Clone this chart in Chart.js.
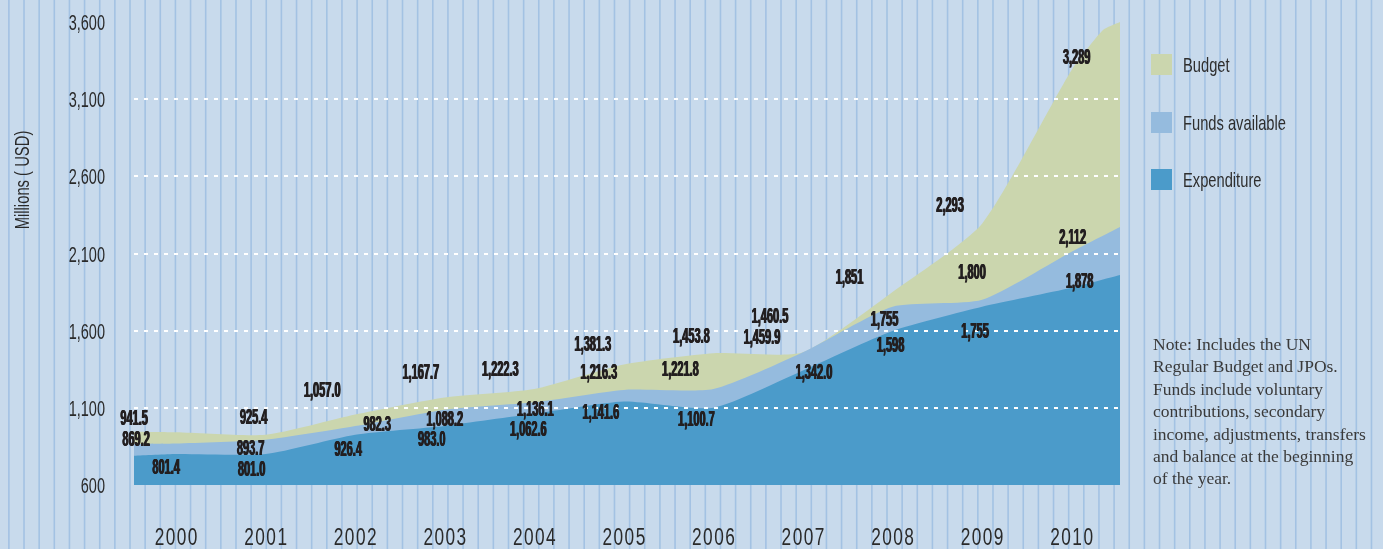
<!DOCTYPE html>
<html>
<head>
<meta charset="utf-8">
<script src="https://cdn.jsdelivr.net/npm/chart.js@4.4.1/dist/chart.umd.min.js"></script>
<style>
  html, body { margin: 0; padding: 0; background: #c8daec; }
  #wrap { width: 1383px; height: 549px; position: relative; }
</style>
</head>
<body>
<div id="wrap"><canvas id="c" width="1383" height="549"></canvas></div>
<script>
// ---------- data ----------
const years = [2000, 2001, 2002, 2003, 2004, 2005, 2006, 2007, 2008, 2009, 2010];
const budget      = [941.5, 925.4, 1057.0, 1167.7, 1222.3, 1381.3, 1453.8, 1460.5, 1851, 2293, 3289];
const funds       = [869.2, 893.7, 982.3, 1088.2, 1136.1, 1216.3, 1221.8, 1459.9, 1755, 1800, 2112];
const expenditure = [801.4, 801.0, 926.4, 983.0, 1062.6, 1141.6, 1100.7, 1342.0, 1598, 1755, 1878];
// the drawn areas run a little past the first and last year
const areaStartYear = 1999.53;
const areaEndYear = 2010.54;
const budgetTailYears = [2010.35, 2010.54];
const budgetTail = [3548, 3600];
const areaStart = { budget: 945, funds: 866, expenditure: 790 };
const areaEnd = { funds: 2272, expenditure: 1960 };
const yTicks = [600, 1100, 1600, 2100, 2600, 3100, 3600];
const seriesNames = ['Budget', 'Funds available', 'Expenditure'];
const noteLines = [
  'Note: Includes the UN',
  'Regular Budget and JPOs.',
  'Funds include voluntary',
  'contributions, secondary',
  'income, adjustments, transfers',
  'and balance at the beginning',
  'of the year.'
];

// ---------- styling / placement ----------
const COLORS = { budget: '#cbd6ae', funds: '#95bbde', expenditure: '#4b9bca' };
const BG = '#c8daec';
const STRIPE = '#a3c2e3';
const TXT = '#231f20';
// label offsets (px) from each data point: [dx of text centre, dy of baseline]
const budgetLabelOff = [[-42,-7],[-12,-11],[-33,-17],[-24,-18],[-34,-13],[-31,-13],[-22,-10],[-33,-29],[-43,-8],[-32,-12],[5,-6]];
const fundsLabelOff  = [[-40,3],[-15,15],[22,5],[0,16],[1,14],[-25,-11],[-33,-13],[-41,-8],[-8,19],[-10,-21],[1,-8]];
const expLabelOff    = [[-10,20],[-14,22],[-7,21],[-13,20],[-6,22],[-23,18],[-17,18],[11,9],[-2,21],[-7,31],[8,0]];

function pts(vals, startVal, tailX, tailY) {
  const out = [{ x: areaStartYear, y: startVal }];
  years.forEach((yr, i) => out.push({ x: yr, y: vals[i] }));
  tailX.forEach((x, i) => out.push({ x: x, y: tailY[i] }));
  return out;
}

function fmt(v, yr) {
  const d = yr <= 2007 ? 1 : 0;
  return v.toLocaleString('en-US', { minimumFractionDigits: d, maximumFractionDigits: d });
}

function drawText(ctx, text, x, y, o) {
  ctx.save();
  ctx.font = o.font;
  ctx.fillStyle = o.color || TXT;
  ctx.textBaseline = o.baseline || 'alphabetic';
  ctx.textAlign = 'left';
  if (o.spacing) ctx.letterSpacing = o.spacing + 'px';
  const sx = o.sx || 1;
  let w = ctx.measureText(text).width;
  if (o.spacing) w -= o.spacing;
  w *= sx;
  const x0 = o.align === 'center' ? x - w / 2 : (o.align === 'right' ? x - w : x);
  ctx.translate(x0, y);
  ctx.scale(sx, 1);
  const passes = o.heavy || 1;
  for (let p = 0; p < passes; p++) ctx.fillText(text, p * 0.9 - (passes - 1) * 0.45, 0);
  ctx.restore();
}

const decor = {
  id: 'decor',
  beforeDraw(chart) {
    const ctx = chart.ctx;
    ctx.save();
    ctx.fillStyle = BG;
    ctx.fillRect(0, 0, chart.width, chart.height);
    ctx.strokeStyle = STRIPE;
    ctx.lineWidth = 1.6;
    for (let x = 130 - 15.14 * 8; x < chart.width; x += 15.14) {
      ctx.beginPath();
      ctx.moveTo(x, 0);
      ctx.lineTo(x, chart.height);
      ctx.stroke();
    }
    ctx.restore();
  },
  afterDraw(chart) {
    const ctx = chart.ctx;
    const xs = chart.scales.x, ys = chart.scales.y;
    // y tick labels
    ys.ticks.forEach(t => {
      drawText(ctx, t.value.toLocaleString('en-US'), 105, ys.getPixelForValue(t.value) + 8,
        { font: '22px "Liberation Sans"', sx: 0.66, align: 'right', color: '#2a2a2a' });
    });
    // axis title
    ctx.save();
    ctx.translate(29, 180);
    ctx.rotate(-Math.PI / 2);
    drawText(ctx, 'Millions ( USD)', 0, 0, { font: '20px "Liberation Sans"', sx: 0.74, align: 'center', color: '#2a2a2a' });
    ctx.restore();
    // year labels
    years.forEach(yr => {
      drawText(ctx, String(yr), xs.getPixelForValue(yr), 545,
        { font: '24px "Liberation Sans"', sx: 0.72, spacing: 2, align: 'center', color: '#2a2a2a' });
    });
    // data labels
    const groups = [[budget, budgetLabelOff], [funds, fundsLabelOff], [expenditure, expLabelOff]];
    groups.forEach(([vals, offs]) => {
      vals.forEach((v, i) => {
        const px = xs.getPixelForValue(years[i]) + offs[i][0];
        const py = ys.getPixelForValue(v) + offs[i][1];
        drawText(ctx, fmt(v, years[i]), px, py, { font: 'bold 22px "Liberation Sans"', sx: 0.5, align: 'center', heavy: 3 });
      });
    });
    // legend
    const legCols = [COLORS.budget, COLORS.funds, COLORS.expenditure];
    const legY = [54, 112, 169];
    seriesNames.forEach((n, i) => {
      ctx.fillStyle = legCols[i];
      ctx.fillRect(1151, legY[i], 21, 21);
      drawText(ctx, n, 1183, legY[i] + 18, { font: '21px "Liberation Sans"', sx: 0.7, color: '#2e2e2e' });
    });
    // note
    noteLines.forEach((l, i) => {
      drawText(ctx, l, 1153, 350 + i * 22.4, { font: '17.5px "Liberation Serif"', color: '#3a3a3a' });
    });
  }
};

new Chart(document.getElementById('c'), {
  type: 'line',
  data: {
    datasets: [
      { label: seriesNames[2], data: pts(expenditure, areaStart.expenditure, [areaEndYear], [areaEnd.expenditure]),
        backgroundColor: COLORS.expenditure, fill: 'start' },
      { label: seriesNames[1], data: pts(funds, areaStart.funds, [areaEndYear], [areaEnd.funds]),
        backgroundColor: COLORS.funds, fill: 'start' },
      { label: seriesNames[0], data: pts(budget, areaStart.budget, budgetTailYears, budgetTail),
        backgroundColor: COLORS.budget, fill: 'start' }
    ]
  },
  options: {
    responsive: false,
    animation: false,
    devicePixelRatio: 1,
    layout: { padding: { left: 134, right: 263, top: 22, bottom: 64 } },
    elements: {
      line: { borderWidth: 0, tension: 0.2 },
      point: { radius: 0, hoverRadius: 0 }
    },
    plugins: { legend: { display: false }, tooltip: { enabled: false } },
    scales: {
      x: { type: 'linear', min: areaStartYear, max: areaEndYear, display: false },
      y: {
        min: 600, max: 3600,
        afterBuildTicks: s => { s.ticks = yTicks.map(v => ({ value: v })); },
        afterFit: s => { s.width = 0; },
        ticks: { display: false },
        border: { display: false, dash: [4, 6] },
        grid: {
          z: 1,
          drawTicks: false,
          lineWidth: 2,
          color: c => (c.tick && (c.tick.value === 600 || c.tick.value === 3600)) ? 'rgba(0,0,0,0)' : '#ffffff'
        }
      }
    }
  },
  plugins: [decor]
});
</script>
</body>
</html>
